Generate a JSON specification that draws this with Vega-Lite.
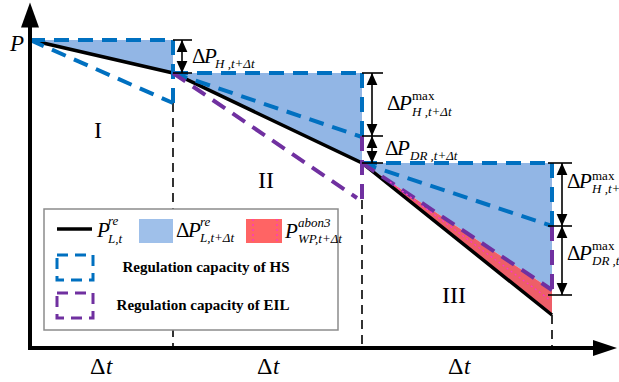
{
"$schema": "https://vega.github.io/schema/vega-lite/v6.json",
"width": 619, "height": 382, "autosize": "none", "padding": 0,
"config": {"view": {"stroke": null}},
"datasets": {
"fillBlue": [
 {"region":"I","t":0,"top":308,"bot":308},
 {"region":"I","t":143,"top":308,"bot":275},
 {"region":"II","t":143,"top":275,"bot":275},
 {"region":"II","t":332,"top":275,"bot":185},
 {"region":"III","t":332,"top":185,"bot":185},
 {"region":"III","t":522,"top":185,"bot":58}
],
"fillRed": [
 {"region":"III","t":332,"top":185,"bot":185},
 {"region":"III","t":522,"top":58,"bot":33}
],
"load": [{"t":0,"P":308},{"t":143,"P":275},{"t":332,"P":185},{"t":522,"P":33}],
"hs": [
 {"t":0,"P":308,"t2":143,"P2":308},
 {"t":143,"P":308,"t2":143,"P2":245},
 {"t":0,"P":308,"t2":143,"P2":245},
 {"t":143,"P":275,"t2":332,"P2":275},
 {"t":332,"P":275,"t2":332,"P2":212},
 {"t":143,"P":275,"t2":332,"P2":211},
 {"t":332,"P":185,"t2":522,"P2":185},
 {"t":522,"P":185,"t2":522,"P2":122},
 {"t":332,"P":185,"t2":522,"P2":122}
],
"eil": [
 {"t":143,"P":275,"t2":327,"P2":150},
 {"t":332,"P":212,"t2":332,"P2":148},
 {"t":332,"P":185,"t2":522,"P2":58},
 {"t":522,"P":122,"t2":522,"P2":58}
],
"dots": [
 {"t":360,"P":166,"t2":520,"P2":48},
 {"t":223,"P":129,"t2":223,"P2":105},
 {"t":247,"P":129,"t2":247,"P2":105}
],
"guides": [
 {"t":143,"P":245,"t2":143,"P2":0},
 {"t":332,"P":148,"t2":332,"P2":0},
 {"t":522,"P":33,"t2":522,"P2":0}
],
"axisLines": [{"t":0,"P":0,"t2":0,"P2":326},{"t":-2,"P":0,"t2":566,"P2":0}],
"axisUp": [{"t":0,"P":333}],
"axisRight": [{"t":575,"P":0}],
"dimLines": [
 {"t":152,"P":308,"t2":152,"P2":275},
 {"t":342,"P":275,"t2":342,"P2":185},
 {"t":532,"P":185,"t2":532,"P2":53},
 {"t":143,"P":308,"t2":162,"P2":308},
 {"t":143,"P":275,"t2":162,"P2":275},
 {"t":332,"P":275,"t2":353,"P2":275},
 {"t":332,"P":212,"t2":353,"P2":212},
 {"t":332,"P":185,"t2":353,"P2":185},
 {"t":518,"P":185,"t2":542,"P2":185},
 {"t":518,"P":122,"t2":542,"P2":122},
 {"t":518,"P":53,"t2":542,"P2":53}
],
"tipsUp": [{"t":152,"P":308},{"t":342,"P":275},{"t":342,"P":212},{"t":532,"P":185},{"t":532,"P":122}],
"tipsDown": [{"t":152,"P":275},{"t":342,"P":212},{"t":342,"P":185},{"t":532,"P":122},{"t":532,"P":53}],
"legendBox": [{"t":14,"P":139,"t2":308,"P2":18}],
"legendLine": [{"t":27,"P":119,"t2":62,"P2":119}],
"legendBlue": [{"t":109,"P":129,"t2":143,"P2":105}],
"legendRed": [{"t":216,"P":129,"t2":252,"P2":105}],
"legendHS": [{"t":27,"P":93,"t2":63,"P2":68}],
"legendEIL": [{"t":27,"P":55,"t2":63,"P2":30}],
"txtDelta": [{"s":"Δ","t":162,"P":285},{"s":"Δ","t":357,"P":238},{"s":"Δ","t":355,"P":193},{"s":"Δ","t":537,"P":160},{"s":"Δ","t":537,"P":88},{"s":"Δ","t":146,"P":111}],
"txtP": [{"s":"P","t":174,"P":285},{"s":"P","t":369,"P":238},{"s":"P","t":367,"P":193},{"s":"P","t":549,"P":160},{"s":"P","t":549,"P":88},{"s":"P","t":158,"P":111},{"s":"P","t":67,"P":111},{"s":"P","t":255,"P":110}],
"txtSub": [{"s":"H ,t+Δt","t":185,"P":280},{"s":"H ,t+Δt","t":382,"P":232},{"s":"DR ,t+Δt","t":380,"P":188},{"s":"H ,t+Δt","t":562,"P":155},{"s":"DR ,t+Δt","t":562,"P":83},{"s":"L,t","t":78,"P":105},{"s":"L,t+Δt","t":170,"P":106},{"s":"WP,t+Δt","t":268,"P":105}],
"txtMax": [{"s":"max","t":382,"P":248},{"s":"max","t":562,"P":168},{"s":"max","t":562,"P":98}],
"txtSupIt": [{"s":"re","t":78,"P":123},{"s":"re","t":170,"P":122},{"s":"abon3","t":268,"P":121}],
"txtRoman": [{"s":"I","t":68,"P":210},{"s":"II","t":236,"P":160},{"s":"III","t":424,"P":45}],
"txtDt": [{"s":"Δ","t":60,"P":-26},{"s":"Δ","t":227,"P":-26},{"s":"Δ","t":418,"P":-26}],
"txtBigIt": [{"s":"t","t":76,"P":-26},{"s":"t","t":243,"P":-26},{"s":"t","t":434,"P":-26},{"s":"P","t":-20,"P":297}],
"txtLegend": [{"s":"Regulation capacity of HS","t":176,"P":76},{"s":"Regulation capacity of EIL","t":173,"P":38}]
},
"layer": [
{"data":{"name":"fillBlue"},"mark":{"type":"area","color":"#92B6E5","opacity":1},
 "encoding":{"x":{"field":"t","type":"quantitative","scale":{"domain":[-30,589],"nice":false,"zero":false},"axis":null},
 "y":{"field":"top","type":"quantitative","scale":{"domain":[-34,348],"nice":false,"zero":false},"axis":null},
 "y2":{"field":"bot"},"detail":{"field":"region"}}},
{"data":{"name":"fillRed"},"mark":{"type":"area","color":"#EE5E68","opacity":1},
 "encoding":{"x":{"field":"t","type":"quantitative","scale":{"domain":[-30,589],"nice":false,"zero":false},"axis":null},
 "y":{"field":"top","type":"quantitative","scale":{"domain":[-34,348],"nice":false,"zero":false},"axis":null},
 "y2":{"field":"bot"},"detail":{"field":"region"}}},
{"data":{"name":"guides"},"mark":{"type":"rule","color":"#000000","strokeWidth":1.6,"strokeDash":[9,6]},
 "encoding":{"x":{"field":"t","type":"quantitative","scale":{"domain":[-30,589],"nice":false,"zero":false},"axis":null},
 "y":{"field":"P","type":"quantitative","scale":{"domain":[-34,348],"nice":false,"zero":false},"axis":null},
 "x2":{"field":"t2"},"y2":{"field":"P2"}}},
{"data":{"name":"load"},"mark":{"type":"line","color":"#000000","strokeWidth":3.5},
 "encoding":{"x":{"field":"t","type":"quantitative","scale":{"domain":[-30,589],"nice":false,"zero":false},"axis":null},
 "y":{"field":"P","type":"quantitative","scale":{"domain":[-34,348],"nice":false,"zero":false},"axis":null}}},
{"data":{"name":"hs"},"mark":{"type":"rule","color":"#0070C0","strokeWidth":4,"strokeDash":[15,9]},
 "encoding":{"x":{"field":"t","type":"quantitative","scale":{"domain":[-30,589],"nice":false,"zero":false},"axis":null},
 "y":{"field":"P","type":"quantitative","scale":{"domain":[-34,348],"nice":false,"zero":false},"axis":null},
 "x2":{"field":"t2"},"y2":{"field":"P2"}}},
{"data":{"name":"eil"},"mark":{"type":"rule","color":"#7030A0","strokeWidth":4,"strokeDash":[15,9]},
 "encoding":{"x":{"field":"t","type":"quantitative","scale":{"domain":[-30,589],"nice":false,"zero":false},"axis":null},
 "y":{"field":"P","type":"quantitative","scale":{"domain":[-34,348],"nice":false,"zero":false},"axis":null},
 "x2":{"field":"t2"},"y2":{"field":"P2"}}},
{"data":{"name":"axisLines"},"mark":{"type":"rule","color":"#000000","strokeWidth":4},
 "encoding":{"x":{"field":"t","type":"quantitative","scale":{"domain":[-30,589],"nice":false,"zero":false},"axis":null},
 "y":{"field":"P","type":"quantitative","scale":{"domain":[-34,348],"nice":false,"zero":false},"axis":null},
 "x2":{"field":"t2"},"y2":{"field":"P2"}}},
{"data":{"name":"axisUp"},"mark":{"type":"point","shape":"M0,-1L0.72,1L-0.72,1Z","size":625,"filled":true,"color":"#000000","opacity":1,"strokeWidth":0},
 "encoding":{"x":{"field":"t","type":"quantitative","scale":{"domain":[-30,589],"nice":false,"zero":false},"axis":null},
 "y":{"field":"P","type":"quantitative","scale":{"domain":[-34,348],"nice":false,"zero":false},"axis":null}}},
{"data":{"name":"axisRight"},"mark":{"type":"point","shape":"M1,0L-1,-0.67L-1,0.67Z","size":576,"filled":true,"color":"#000000","opacity":1,"strokeWidth":0},
 "encoding":{"x":{"field":"t","type":"quantitative","scale":{"domain":[-30,589],"nice":false,"zero":false},"axis":null},
 "y":{"field":"P","type":"quantitative","scale":{"domain":[-34,348],"nice":false,"zero":false},"axis":null}}},
{"data":{"name":"dimLines"},"mark":{"type":"rule","color":"#000000","strokeWidth":1.6},
 "encoding":{"x":{"field":"t","type":"quantitative","scale":{"domain":[-30,589],"nice":false,"zero":false},"axis":null},
 "y":{"field":"P","type":"quantitative","scale":{"domain":[-34,348],"nice":false,"zero":false},"axis":null},
 "x2":{"field":"t2"},"y2":{"field":"P2"}}},
{"data":{"name":"tipsUp"},"mark":{"type":"point","shape":"M0,-1L0.9,1L-0.9,1Z","size":144,"filled":true,"color":"#000000","opacity":1,"strokeWidth":0,"yOffset":6},
 "encoding":{"x":{"field":"t","type":"quantitative","scale":{"domain":[-30,589],"nice":false,"zero":false},"axis":null},
 "y":{"field":"P","type":"quantitative","scale":{"domain":[-34,348],"nice":false,"zero":false},"axis":null}}},
{"data":{"name":"tipsDown"},"mark":{"type":"point","shape":"M0,1L0.9,-1L-0.9,-1Z","size":144,"filled":true,"color":"#000000","opacity":1,"strokeWidth":0,"yOffset":-6},
 "encoding":{"x":{"field":"t","type":"quantitative","scale":{"domain":[-30,589],"nice":false,"zero":false},"axis":null},
 "y":{"field":"P","type":"quantitative","scale":{"domain":[-34,348],"nice":false,"zero":false},"axis":null}}},
{"data":{"name":"legendBox"},"mark":{"type":"rect","color":"#C8C8C8","xOffset":3,"yOffset":3},
 "encoding":{"x":{"field":"t","type":"quantitative","scale":{"domain":[-30,589],"nice":false,"zero":false},"axis":null},
 "y":{"field":"P","type":"quantitative","scale":{"domain":[-34,348],"nice":false,"zero":false},"axis":null},
 "x2":{"field":"t2"},"y2":{"field":"P2"}}},
{"data":{"name":"legendBox"},"mark":{"type":"rect","fill":"#FFFFFF","stroke":"#8C8C8C","strokeWidth":1.5},
 "encoding":{"x":{"field":"t","type":"quantitative","scale":{"domain":[-30,589],"nice":false,"zero":false},"axis":null},
 "y":{"field":"P","type":"quantitative","scale":{"domain":[-34,348],"nice":false,"zero":false},"axis":null},
 "x2":{"field":"t2"},"y2":{"field":"P2"}}},
{"data":{"name":"legendLine"},"mark":{"type":"rule","color":"#000000","strokeWidth":3.5},
 "encoding":{"x":{"field":"t","type":"quantitative","scale":{"domain":[-30,589],"nice":false,"zero":false},"axis":null},
 "y":{"field":"P","type":"quantitative","scale":{"domain":[-34,348],"nice":false,"zero":false},"axis":null},
 "x2":{"field":"t2"},"y2":{"field":"P2"}}},
{"data":{"name":"legendBlue"},"mark":{"type":"rect","color":"#9FC0EA"},
 "encoding":{"x":{"field":"t","type":"quantitative","scale":{"domain":[-30,589],"nice":false,"zero":false},"axis":null},
 "y":{"field":"P","type":"quantitative","scale":{"domain":[-34,348],"nice":false,"zero":false},"axis":null},
 "x2":{"field":"t2"},"y2":{"field":"P2"}}},
{"data":{"name":"legendRed"},"mark":{"type":"rect","color":"#FF6464"},
 "encoding":{"x":{"field":"t","type":"quantitative","scale":{"domain":[-30,589],"nice":false,"zero":false},"axis":null},
 "y":{"field":"P","type":"quantitative","scale":{"domain":[-34,348],"nice":false,"zero":false},"axis":null},
 "x2":{"field":"t2"},"y2":{"field":"P2"}}},
{"data":{"name":"dots"},"mark":{"type":"rule","color":"#FF33CC","strokeWidth":1.3,"strokeDash":[2,3]},
 "encoding":{"x":{"field":"t","type":"quantitative","scale":{"domain":[-30,589],"nice":false,"zero":false},"axis":null},
 "y":{"field":"P","type":"quantitative","scale":{"domain":[-34,348],"nice":false,"zero":false},"axis":null},
 "x2":{"field":"t2"},"y2":{"field":"P2"}}},
{"data":{"name":"legendHS"},"mark":{"type":"rect","fill":null,"fillOpacity":0,"stroke":"#0070C0","strokeWidth":3,"strokeDash":[11,7]},
 "encoding":{"x":{"field":"t","type":"quantitative","scale":{"domain":[-30,589],"nice":false,"zero":false},"axis":null},
 "y":{"field":"P","type":"quantitative","scale":{"domain":[-34,348],"nice":false,"zero":false},"axis":null},
 "x2":{"field":"t2"},"y2":{"field":"P2"}}},
{"data":{"name":"legendEIL"},"mark":{"type":"rect","fill":null,"fillOpacity":0,"stroke":"#7030A0","strokeWidth":3,"strokeDash":[11,7]},
 "encoding":{"x":{"field":"t","type":"quantitative","scale":{"domain":[-30,589],"nice":false,"zero":false},"axis":null},
 "y":{"field":"P","type":"quantitative","scale":{"domain":[-34,348],"nice":false,"zero":false},"axis":null},
 "x2":{"field":"t2"},"y2":{"field":"P2"}}},
{"data":{"name":"txtDelta"},"mark":{"type":"text","font":"Liberation Serif","fontSize":21,"align":"left","baseline":"alphabetic","color":"#000000"},
 "encoding":{"x":{"field":"t","type":"quantitative","scale":{"domain":[-30,589],"nice":false,"zero":false},"axis":null},
 "y":{"field":"P","type":"quantitative","scale":{"domain":[-34,348],"nice":false,"zero":false},"axis":null},
 "text":{"field":"s"}}},
{"data":{"name":"txtP"},"mark":{"type":"text","font":"Liberation Serif","fontSize":21,"fontStyle":"italic","align":"left","baseline":"alphabetic","color":"#000000"},
 "encoding":{"x":{"field":"t","type":"quantitative","scale":{"domain":[-30,589],"nice":false,"zero":false},"axis":null},
 "y":{"field":"P","type":"quantitative","scale":{"domain":[-34,348],"nice":false,"zero":false},"axis":null},
 "text":{"field":"s"}}},
{"data":{"name":"txtSub"},"mark":{"type":"text","font":"Liberation Serif","fontSize":13,"fontStyle":"italic","align":"left","baseline":"alphabetic","color":"#000000"},
 "encoding":{"x":{"field":"t","type":"quantitative","scale":{"domain":[-30,589],"nice":false,"zero":false},"axis":null},
 "y":{"field":"P","type":"quantitative","scale":{"domain":[-34,348],"nice":false,"zero":false},"axis":null},
 "text":{"field":"s"}}},
{"data":{"name":"txtMax"},"mark":{"type":"text","font":"Liberation Serif","fontSize":13,"align":"left","baseline":"alphabetic","color":"#000000"},
 "encoding":{"x":{"field":"t","type":"quantitative","scale":{"domain":[-30,589],"nice":false,"zero":false},"axis":null},
 "y":{"field":"P","type":"quantitative","scale":{"domain":[-34,348],"nice":false,"zero":false},"axis":null},
 "text":{"field":"s"}}},
{"data":{"name":"txtSupIt"},"mark":{"type":"text","font":"Liberation Serif","fontSize":13,"fontStyle":"italic","align":"left","baseline":"alphabetic","color":"#000000"},
 "encoding":{"x":{"field":"t","type":"quantitative","scale":{"domain":[-30,589],"nice":false,"zero":false},"axis":null},
 "y":{"field":"P","type":"quantitative","scale":{"domain":[-34,348],"nice":false,"zero":false},"axis":null},
 "text":{"field":"s"}}},
{"data":{"name":"txtRoman"},"mark":{"type":"text","font":"Liberation Serif","fontSize":24,"align":"center","baseline":"alphabetic","color":"#000000"},
 "encoding":{"x":{"field":"t","type":"quantitative","scale":{"domain":[-30,589],"nice":false,"zero":false},"axis":null},
 "y":{"field":"P","type":"quantitative","scale":{"domain":[-34,348],"nice":false,"zero":false},"axis":null},
 "text":{"field":"s"}}},
{"data":{"name":"txtDt"},"mark":{"type":"text","font":"Liberation Serif","fontSize":24,"align":"left","baseline":"alphabetic","color":"#000000"},
 "encoding":{"x":{"field":"t","type":"quantitative","scale":{"domain":[-30,589],"nice":false,"zero":false},"axis":null},
 "y":{"field":"P","type":"quantitative","scale":{"domain":[-34,348],"nice":false,"zero":false},"axis":null},
 "text":{"field":"s"}}},
{"data":{"name":"txtBigIt"},"mark":{"type":"text","font":"Liberation Serif","fontSize":23,"fontStyle":"italic","align":"left","baseline":"alphabetic","color":"#000000"},
 "encoding":{"x":{"field":"t","type":"quantitative","scale":{"domain":[-30,589],"nice":false,"zero":false},"axis":null},
 "y":{"field":"P","type":"quantitative","scale":{"domain":[-34,348],"nice":false,"zero":false},"axis":null},
 "text":{"field":"s"}}},
{"data":{"name":"txtLegend"},"mark":{"type":"text","font":"Liberation Serif","fontSize":15,"fontWeight":"bold","align":"center","baseline":"alphabetic","color":"#000000"},
 "encoding":{"x":{"field":"t","type":"quantitative","scale":{"domain":[-30,589],"nice":false,"zero":false},"axis":null},
 "y":{"field":"P","type":"quantitative","scale":{"domain":[-34,348],"nice":false,"zero":false},"axis":null},
 "text":{"field":"s"}}}
]
}
